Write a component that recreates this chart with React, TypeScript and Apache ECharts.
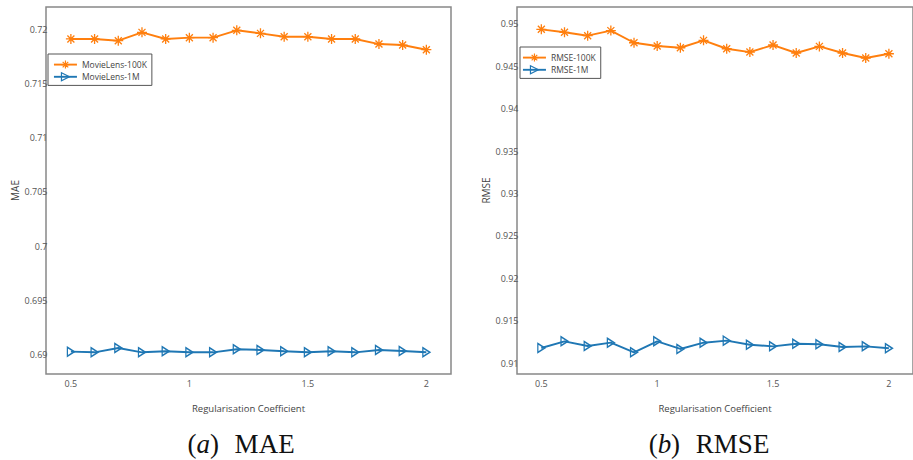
import React, { useEffect, useRef } from "react";
import * as echarts from "echarts";

const xValues = [0.5, 0.6, 0.7, 0.8, 0.9, 1.0, 1.1, 1.2, 1.3, 1.4, 1.5, 1.6, 1.7, 1.8, 1.9, 2.0];
const mae100k = [0.71911, 0.71911, 0.71895, 0.71972, 0.71911, 0.71923, 0.71923, 0.71991, 0.71963, 0.71932, 0.71932, 0.71911, 0.71911, 0.71864, 0.71855, 0.71812];
const mae1m = [0.69026, 0.6902, 0.6906, 0.6902, 0.6903, 0.6902, 0.6902, 0.69048, 0.69042, 0.6903, 0.6902, 0.6903, 0.6902, 0.69042, 0.69032, 0.6902];
const rmse100k = [0.94935, 0.9490, 0.9486, 0.9492, 0.94777, 0.94738, 0.94718, 0.94805, 0.94706, 0.94667, 0.9475, 0.94656, 0.94734, 0.94656, 0.94597, 0.94647];
const rmse1m = [0.9118, 0.91259, 0.91204, 0.91243, 0.9113, 0.91259, 0.91169, 0.91243, 0.91267, 0.91219, 0.912, 0.91231, 0.91224, 0.91192, 0.912, 0.91177];

const xTicks = [0.5, 1, 1.5, 2];
const maeTicks = [0.69, 0.695, 0.7, 0.705, 0.71, 0.715, 0.72];
const rmseTicks = [0.91, 0.915, 0.92, 0.925, 0.93, 0.935, 0.94, 0.945, 0.95];

const ORANGE = "#ff7f0e";
const BLUE = "#1f77b4";
const FONT = "Open Sans";
const ASTERISK = "path://M5,0L5,10M0,5L10,5M1.5,1.5L8.5,8.5M1.5,8.5L8.5,1.5";
const TRIANGLE = "path://M0,0L9,5L0,10Z";

const pair = (ys: number[]) => xValues.map((x, i) => [x, ys[i]]);

export default function App() {
  const ref = useRef<HTMLDivElement>(null);
  useEffect(() => {
    if (!ref.current) return;
    const chart = echarts.init(ref.current, null, { renderer: "svg" });
    const fmt = (v: number) => String(parseFloat(v.toFixed(4)));
    const xAxisBase = (gridIndex: number) => ({
      type: "value",
      gridIndex,
      min: 0.395,
      max: 2.104,
      name: "Regularisation Coefficient",
      nameLocation: "middle",
      nameGap: 29,
      nameMoveOverlap: false,
      nameTextStyle: { fontFamily: FONT, fontSize: 9.5, color: "#444" },
      axisLine: { show: false },
      axisTick: { show: false },
      splitLine: { show: false },
      axisLabel: { customValues: xTicks, formatter: fmt, fontFamily: FONT, fontSize: 9, color: "#555", margin: 5 },
    });
    const yAxisBase = (gridIndex: number, name: string, min: number, max: number, ticks: number[], gap: number) => ({
      type: "value",
      gridIndex,
      min,
      max,
      name,
      nameLocation: "middle",
      nameGap: gap,
      nameMoveOverlap: false,
      nameTextStyle: { fontFamily: FONT, fontSize: 10, color: "#444" },
      axisLine: { show: false },
      axisTick: { show: false },
      splitLine: { show: false },
      axisLabel: { customValues: ticks, formatter: fmt, fontFamily: FONT, fontSize: 9, color: "#555", margin: -1.5 },
    });
    const series100k = (name: string, data: number[], idx: number) => ({
      type: "line",
      name,
      xAxisIndex: idx,
      yAxisIndex: idx,
      data: pair(data),
      symbol: ASTERISK,
      symbolSize: 10,
      showAllSymbol: true,
      lineStyle: { color: ORANGE, width: 1.9 },
      itemStyle: { color: ORANGE, borderColor: ORANGE, borderWidth: 1.3 },
    });
    const series1m = (name: string, data: number[], idx: number) => ({
      type: "line",
      name,
      xAxisIndex: idx,
      yAxisIndex: idx,
      data: pair(data),
      symbol: TRIANGLE,
      symbolSize: [7, 9],
      showAllSymbol: true,
      lineStyle: { color: BLUE, width: 1.9 },
      itemStyle: { color: "rgba(255,255,255,0)", borderColor: BLUE, borderWidth: 1.4 },
    });
    const legendBase = {
      orient: "vertical",
      backgroundColor: "#fff",
      borderColor: "#555",
      borderWidth: 1,
      borderRadius: 0,
      itemWidth: 23,
      itemHeight: 10,
      itemGap: 3,
      textStyle: { fontFamily: FONT, fontSize: 8.5, color: "#444" },
    };
    const legendItem = (name: string, asterisk: boolean) =>
      asterisk
        ? { name, itemStyle: { color: ORANGE, borderColor: ORANGE, borderWidth: 1.2 }, lineStyle: { color: ORANGE, width: 1.9 } }
        : { name, itemStyle: { color: "rgba(255,255,255,0)", borderColor: BLUE, borderWidth: 1.2 }, lineStyle: { color: BLUE, width: 1.9 } };
    const captionStyle = {
      fontFamily: "Liberation Serif",
      fontSize: 27,
      fontWeight: "normal",
      color: "#111",
      rich: { i: { fontFamily: "Liberation Serif", fontStyle: "italic", fontSize: 27, color: "#111" } },
    };
    chart.setOption({
      animation: false,
      backgroundColor: "#fff",
      title: [
        { text: "({i|a})\u2002\u200AMAE", left: 236, top: 425, textAlign: "center", textStyle: captionStyle },
        { text: "({i|b})\u2002\u200ARMSE", left: 704, top: 425, textAlign: "center", textStyle: captionStyle },
      ],
      grid: [
        { left: 46, top: 7, width: 405, height: 367, show: true, borderColor: "#888", borderWidth: 1.5, backgroundColor: "transparent" },
        { left: 517, top: 7, width: 405, height: 367, show: true, borderColor: "#888", borderWidth: 1.5, backgroundColor: "transparent" },
      ],
      xAxis: [xAxisBase(0), xAxisBase(1)],
      yAxis: [
        yAxisBase(0, "MAE", 0.6882, 0.72206, maeTicks, 26),
        yAxisBase(1, "RMSE", 0.90874, 0.95198, rmseTicks, 26),
      ],
      legend: [
        { ...legendBase, data: [legendItem("MovieLens-100K", true), legendItem("MovieLens-1M", false)], left: 48, top: 54, padding: [6, 5, 4, 5] },
        { ...legendBase, data: [legendItem("RMSE-100K", true), legendItem("RMSE-1M", false)], left: 520, top: 47, padding: [6, 5, 4, 2] },
      ],
      series: [
        series100k("MovieLens-100K", mae100k, 0),
        series1m("MovieLens-1M", mae1m, 0),
        series100k("RMSE-100K", rmse100k, 1),
        series1m("RMSE-1M", rmse1m, 1),
      ],
    });
    return () => chart.dispose();
  }, []);
  return (
    <div style={{ position: "absolute", left: 0, top: 0, width: 913, height: 460, overflow: "hidden" }}>
      <div ref={ref} style={{ width: 913, height: 460 }} />
    </div>
  );
}
